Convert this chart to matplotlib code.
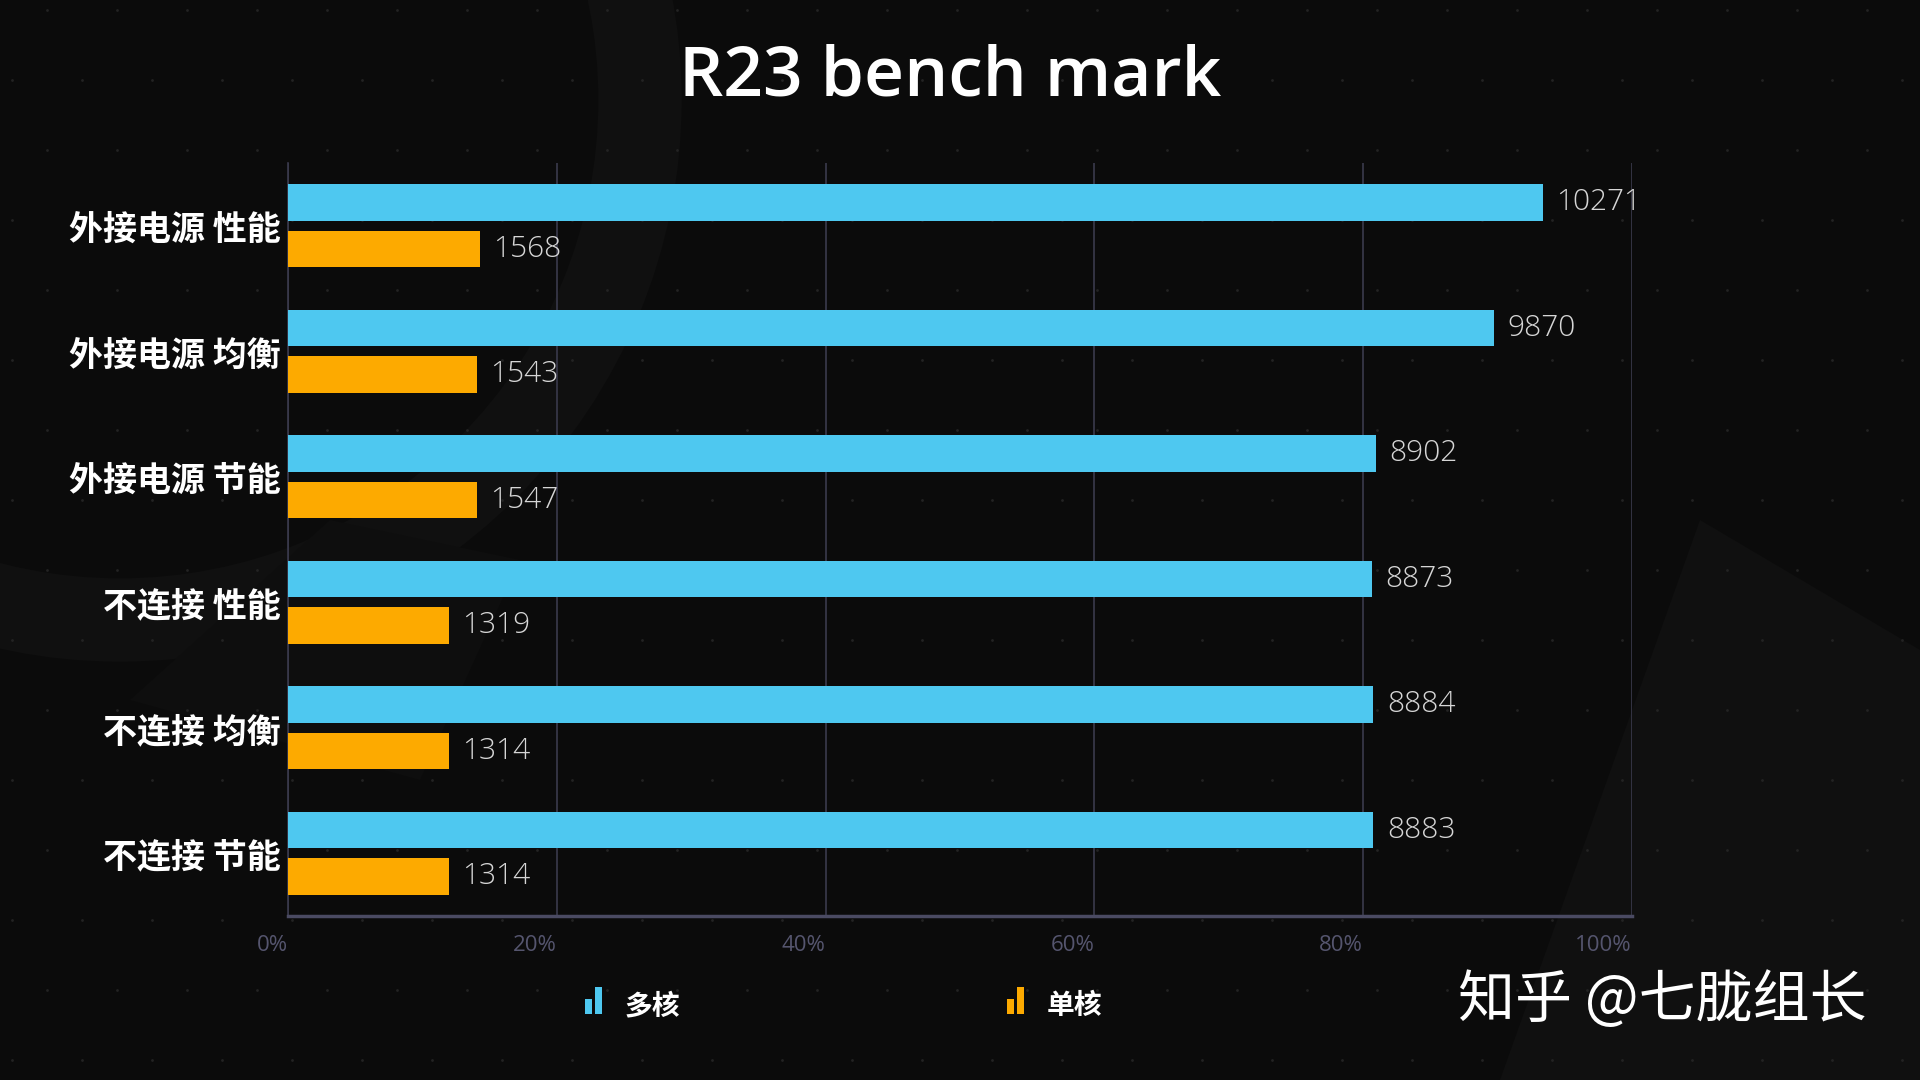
"""R23 bench mark chart, dark card style."""
import matplotlib.patches as mpatches
import matplotlib.pyplot as plt
from matplotlib.ticker import FuncFormatter

plt.rcParams["font.family"] = ["Open Sans", "Noto Sans CJK SC", "DejaVu Sans"]

BG = "#0b0b0b"
DECO = "#101010"
DOT = "#232323"
BLUE = "#4ec8f0"
ORANGE = "#fdaa00"
GRID = "#3a3a4c"
AXIS = "#4a4a62"
TICK = "#55556e"
VALUE = "#d6d6d6"
WHITE = "#ffffff"
CJK = ["Noto Sans CJK SC", "DejaVu Sans"]

categories = ["外接电源 性能", "外接电源 均衡", "外接电源 节能",
              "不连接 性能", "不连接 均衡", "不连接 节能"]
multi_core = [10271, 9870, 8902, 8873, 8884, 8883]
single_core = [1568, 1543, 1547, 1319, 1314, 1314]
series_names = ["多核", "单核"]
x_max = 11000
tick_pcts = [0, 20, 40, 60, 80, 100]

W, H = 1920, 1080
fig = plt.figure(figsize=(W / 100, H / 100), dpi=100)
fig.patch.set_facecolor(BG)

# --- background decoration ---------------------------------------------------
bg = fig.add_axes([0, 0, 1, 1], zorder=-5)
bg.set_xlim(0, W)
bg.set_ylim(0, H)
bg.axis("off")
bg.add_patch(mpatches.Circle((120, 980), 520, facecolor="none",
                             edgecolor=DECO, linewidth=60))
bg.add_patch(mpatches.Polygon([[1500, 0], [1920, 0], [1920, 430], [1700, 560]],
                              closed=True, facecolor=DECO, edgecolor="none"))
bg.add_patch(mpatches.Polygon([[130, 380], [330, 560], [520, 520], [420, 300]],
                              closed=True, facecolor="#0e0e0e", edgecolor="none"))
dots_x, dots_y = [], []
for j in range(0, 16):
    for i in range(0, 28):
        dots_x.append(i * 70 + (35 if j % 2 else 0) + 12)
        dots_y.append(j * 70 + 20)
bg.scatter(dots_x, dots_y, s=4, color=DOT, linewidths=0)

# --- main chart -------------------------------------------------------------
ax = fig.add_axes([288 / W, 164 / H, 1344 / W, 753 / H])
ax.set_facecolor("none")

ypos = list(range(len(categories)))
bar_h = 0.29
off = 0.185
ax.barh([y - off for y in ypos], multi_core, height=bar_h, color=BLUE, zorder=3)
ax.barh([y + off for y in ypos], single_core, height=bar_h, color=ORANGE, zorder=3)

for y, v in zip(ypos, multi_core):
    ax.text(v + 110, y - off, f"{v}", color=VALUE, fontsize=21.5,
            fontweight="light", ha="left", va="center", zorder=4)
for y, v in zip(ypos, single_core):
    ax.text(v + 110, y + off, f"{v}", color=VALUE, fontsize=21.5,
            fontweight="light", ha="left", va="center", zorder=4)

ax.set_xlim(0, x_max)
ax.set_ylim(len(categories) - 0.5, -0.5)
ax.set_xticks([p / 100 * x_max for p in tick_pcts])
ax.xaxis.set_major_formatter(FuncFormatter(lambda v, _: f"{round(v / x_max * 100)}%"))
ax.grid(axis="x", color=GRID, linewidth=1.2, zorder=0)
ax.tick_params(axis="x", length=0, pad=14, labelsize=16, labelcolor=TICK)
for lab in ax.get_xticklabels():
    lab.set_horizontalalignment("right")
ax.set_yticks(ypos)
ax.set_yticklabels(categories, fontsize=24.5, fontweight="heavy", color=WHITE,
                   family=CJK)
ax.tick_params(axis="y", length=0, pad=5)

for s in ["top", "right"]:
    ax.spines[s].set_visible(False)
ax.spines["left"].set_color(GRID)
ax.spines["left"].set_linewidth(1.2)
ax.spines["bottom"].set_color(AXIS)
ax.spines["bottom"].set_linewidth(2.5)

# --- title --------------------------------------------------------------------
fig.text(950 / W, 1 - 78 / H, "R23 bench mark", color=WHITE, fontsize=50,
         fontweight="semibold", ha="center", va="center")

# --- legend (bar-chart icons + labels) -------------------------------------
def legend_item(x0, color, label):
    for dx, h in [(0, 15), (10, 27)]:
        fig.add_artist(mpatches.Rectangle(
            ((x0 + dx) / W, 1 - 1014 / H), 7 / W, h / H,
            transform=fig.transFigure, facecolor=color, edgecolor="none"))
    fig.text((x0 + 40) / W, 1 - 1006 / H, label, color=WHITE, fontsize=20,
             fontweight="heavy", family=CJK, ha="left", va="center")

legend_item(585, BLUE, series_names[0])
legend_item(1007, ORANGE, series_names[1])

# --- watermark --------------------------------------------------------------
fig.text(1867 / W, 1 - 1001 / H, "知乎 @七胧组长", color=WHITE, fontsize=41,
         family=CJK, ha="right", va="center")

fig.savefig("out.png", facecolor=BG, dpi=100)
